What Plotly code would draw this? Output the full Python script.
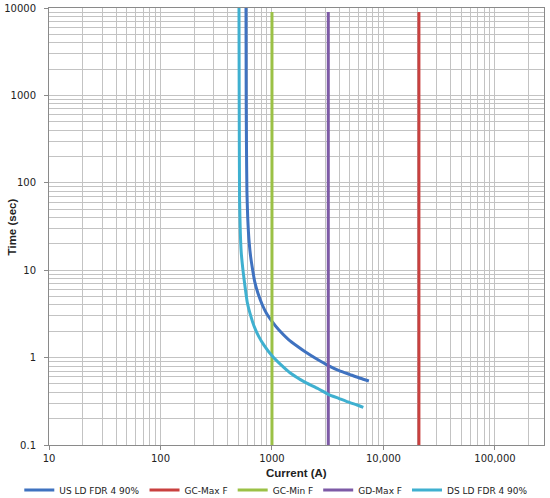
import plotly.graph_objects as go

# currents (A) and times (sec)
us_ld_current = [585, 587, 590, 596, 606, 625, 645, 670, 700, 750, 820, 900, 1000,
                 1150, 1400, 1700, 2000, 2500, 3200, 4000, 5000, 6200, 7400]
us_ld_time = [10000, 1000, 300, 80, 40, 20.5, 14, 10.2, 7.4, 5.4, 4.0, 3.15, 2.6,
              2.08, 1.62, 1.34, 1.16, 0.97, 0.81, 0.71, 0.64, 0.58, 0.54]

ds_ld_current = [506, 508, 512, 520, 530, 553, 575, 600, 640, 690, 760, 850, 1000,
                 1200, 1450, 1800, 2050, 2600, 3200, 4000, 5000, 5800, 6600]
ds_ld_time = [10000, 1000, 65, 27, 16, 9.3, 6.3, 4.3, 3.1, 2.3, 1.75, 1.38, 1.05,
              0.83, 0.67, 0.56, 0.51, 0.44, 0.38, 0.34, 0.305, 0.287, 0.27]

gc_max_f = 20800
gc_min_f = 1000
gd_max_f = 3200
vline_time = [0.1, 9000]

x_ticks = [10, 100, 1000, 10000, 100000]
x_labels = ["10", "100", "1000", "10,000", "100,000"]
y_ticks = [0.1, 1, 10, 100, 1000, 10000]
y_labels = ["0.1", "1", "10", "100", "1000", "10000"]

fig = go.Figure()
fig.add_trace(go.Scatter(x=us_ld_current, y=us_ld_time, mode="lines", name="US LD FDR 4 90%",
                         line=dict(color="#3f72c0", width=3, shape="spline", smoothing=0.5)))
fig.add_trace(go.Scatter(x=[gc_max_f, gc_max_f], y=vline_time, mode="lines", name="GC-Max F",
                         line=dict(color="#c9403f", width=3)))
fig.add_trace(go.Scatter(x=[gc_min_f, gc_min_f], y=vline_time, mode="lines", name="GC-Min F",
                         line=dict(color="#9bc146", width=3)))
fig.add_trace(go.Scatter(x=[gd_max_f, gd_max_f], y=vline_time, mode="lines", name="GD-Max F",
                         line=dict(color="#7d5aa6", width=3)))
fig.add_trace(go.Scatter(x=ds_ld_current, y=ds_ld_time, mode="lines", name="DS LD FDR 4 90%",
                         line=dict(color="#3fb0d0", width=3, shape="spline", smoothing=0.5)))

grid = "#c3c3c3"
title_font = dict(family="Liberation Sans Narrow, Liberation Sans", size=11.5, color="#222222")
fig.update_layout(
    width=550, height=498,
    margin=dict(l=49, r=6, t=8, b=53, autoexpand=False),
    paper_bgcolor="white", plot_bgcolor="white",
    font=dict(family="DejaVu Sans", size=10, color="#222222"),
    showlegend=True,
    legend=dict(orientation="h", x=-0.06, xanchor="left", y=-0.103, yanchor="middle",
                font=dict(size=9), itemwidth=30, tracegroupgap=0),
    annotations=[
        dict(text="<b>Time (sec)</b>", xref="paper", yref="paper", x=-0.075, y=0.5,
             xanchor="center", yanchor="middle", textangle=-90, showarrow=False, font=title_font),
        dict(text="<b>Current (A)</b>", xref="paper", yref="paper", x=0.5, y=-0.064,
             xanchor="center", yanchor="middle", showarrow=False, font=title_font),
    ],
)
fig.update_xaxes(
    type="log", range=[1, 5.44], automargin=False,
    tickvals=x_ticks, ticktext=x_labels,
    showgrid=True, gridcolor=grid, gridwidth=1,
    minor=dict(dtick="D1", showgrid=True, gridcolor=grid, gridwidth=1),
    showline=True, linecolor="#8a8a8a", mirror=True,
    ticks="outside", ticklen=4, tickcolor="#8a8a8a",
    tickfont=dict(size=10), ticklabelstandoff=0,
    zeroline=False,
)
fig.update_yaxes(
    type="log", range=[-1, 4], automargin=False,
    tickvals=y_ticks, ticktext=y_labels,
    showgrid=True, gridcolor=grid, gridwidth=1,
    minor=dict(dtick="D1", showgrid=True, gridcolor=grid, gridwidth=1),
    showline=True, linecolor="#8a8a8a", mirror=True,
    ticks="outside", ticklen=4, tickcolor="#8a8a8a",
    tickfont=dict(size=10), ticklabelstandoff=6,
    zeroline=False,
)

# the page's default body margin would shift the chart by 8px
fig.write_html("out.html", config={"displayModeBar": False},
               post_script="document.body.style.margin='0';")
